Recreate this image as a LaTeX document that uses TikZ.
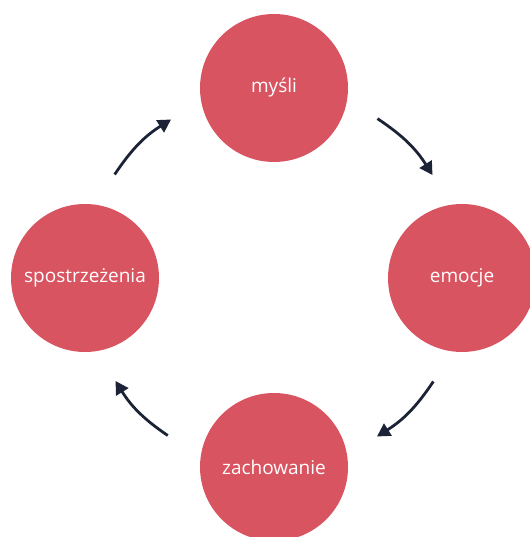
\documentclass[tikz,border=0pt]{standalone}
\usepackage{fontspec}
\setmainfont{Open Sans}
\usetikzlibrary{arrows.meta}
\definecolor{circ}{HTML}{D95461}
\definecolor{arr}{HTML}{1C2336}
\begin{document}
\begin{tikzpicture}[x=1pt,y=1pt,
  stage/.style={circle,fill=circ,minimum size=148pt,inner sep=0pt,text=white,font=\fontsize{19}{22}\selectfont},
  cyc/.style={draw=arr,line width=2.8pt,-{Triangle[length=13pt,width=14pt]}}]
\useasboundingbox (0,0) rectangle (529,537);
\coordinate (c) at (274,259);
\node[stage] (t) at (274,449) {myśli};
\node[stage] (r) at (462,259) {emocje};
\node[stage] (b) at (274,70) {zachowanie};
\node[stage] (l) at (85,259) {spostrzeżenia};
\path (c) ++(57:190) coordinate (a1s) (c) ++(33:189) coordinate (a1e);
\path (c) ++(-33:190) coordinate (a2s) (c) ++(-57:189) coordinate (a2e);
\path (c) ++(236:190) coordinate (a3s) (c) ++(213:189) coordinate (a3e);
\path (c) ++(147:190) coordinate (a4s) (c) ++(123:189) coordinate (a4e);
\draw[cyc] (a1s) to[bend left=12] (a1e);
\draw[cyc] (a2s) to[bend left=12] (a2e);
\draw[cyc] (a3s) to[bend left=12] (a3e);
\draw[cyc] (a4s) to[bend left=12] (a4e);
\end{tikzpicture}
\end{document}
